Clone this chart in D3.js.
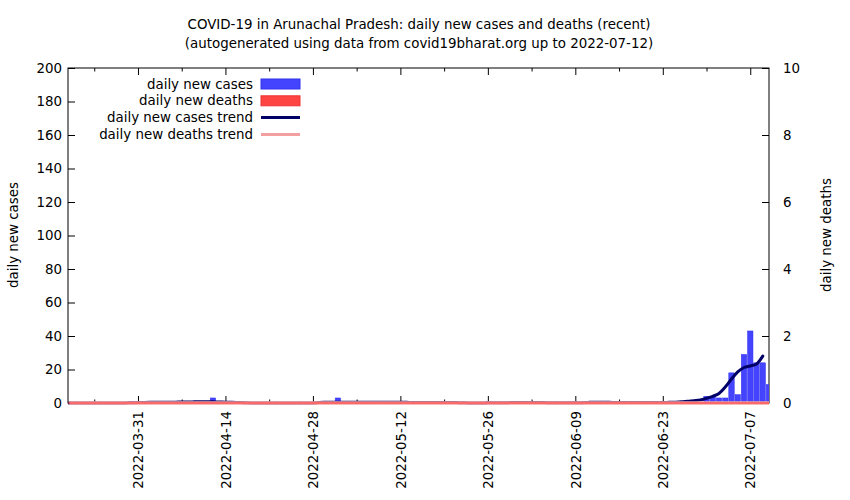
<!DOCTYPE html>
<html><head><meta charset="utf-8">
<script src="https://cdn.jsdelivr.net/npm/d3@7"></script>
<style>
body{margin:0;background:#fff;}
text{font-family:"DejaVu Sans",sans-serif;font-size:13.4px;fill:#000;}
</style></head>
<body><svg id="c" width="850" height="500"></svg>
<script>
const startDate = "2022-03-20";
// daily new cases, one value per day from startDate to 2022-07-10
const newCases = [
0,0,0,0,0,0,0,0,0,0, 1,0,1,0,0,0,0,0,1,0,
0,0,0,3,1,0,0,0,0,0, 0,0,0,0,0,0,0,0,0,0,
0,0,0,3,0,0,0,0,0,0, 0,0,0,0,1,0,0,0,0,0,
1,0,0,0,0,0,0,1,0,0, 0,0,0,0,1,0,0,0,0,0,
0,1,0,0,0,1,0,0,0,0, 0,0,0,0,1,0,0,0,0,0,
0,0,4,4,3,3,18,5,29,43, 24,24,11];
const newDeaths = new Array(113).fill(0);
const casesTrend = [
0,0,0,0,0,0,0,0,0,0, 0.15,0.25,0.35,0.4,0.4,0.45,0.5,0.5,0.6,0.6,
0.7,0.8,0.8,0.7,0.6,0.5,0.4,0.3,0.15,0, 0,0,0,0,0,0,0,0,0,0,
0.3,0.4,0.45,0.5,0.45,0.4,0.4,0.4,0.4,0.45, 0.5,0.5,0.5,0.45,0.4,0.3,0.3,0.35,0.3,0.3,
0.3,0.3,0.25,0.15,0,0,0,0.1,0.2,0.2, 0.2,0.25,0.3,0.3,0.3,0.3,0.25,0.15,0.15,0.15,
0.2,0.2,0.2,0.35,0.45,0.5,0.45,0.35,0.35,0.35, 0.3,0.3,0.3,0.3,0.3,0.3,0.4,0.5,0.7,1.1,
1.4,1.8,2.8,4,5.7,9.5,14.3,18.6,21.2,22.1, 23.3,28,null];
const deathsTrend = new Array(113).fill(0);
const leftTicks = [0,20,40,60,80,100,120,140,160,180,200];
const rightTicks = [0,2,4,6,8,10];
const labelDates = ["2022-03-31","2022-04-14","2022-04-28","2022-05-12","2022-05-26","2022-06-09","2022-06-23","2022-07-07"];
const title1 = "COVID-19 in Arunachal Pradesh: daily new cases and deaths (recent)";
const title2 = "(autogenerated using data from covid19bharat.org up to 2022-07-12)";

const parse = d3.utcParse("%Y-%m-%d");
const day0 = parse(startDate);
const dates = newCases.map((_, i) => d3.utcDay.offset(day0, i));

const L = 68, R = 769, T = 68, B = 403;
const svg = d3.select("#c");
const x = d3.scaleUtc()
  .domain([new Date(Date.UTC(2022,2,19,19,12)), new Date(Date.UTC(2022,6,10,0,0))])
  .range([L, R]);
const y = d3.scaleLinear().domain([0,200]).range([B,T]);
const y2 = d3.scaleLinear().domain([0,10]).range([B,T]);
const dayW = x(d3.utcDay.offset(day0,1)) - x(day0);

svg.append("defs").append("clipPath").attr("id","clip")
  .append("rect").attr("x",L).attr("y",T-2).attr("width",R-L).attr("height",B-T+6);

// titles
svg.append("text").attr("x",419).attr("y",29).attr("text-anchor","middle").text(title1);
svg.append("text").attr("x",419).attr("y",48).attr("text-anchor","middle").text(title2);

// border first (plot content is drawn over it)
svg.append("rect").attr("x",L).attr("y",T).attr("width",R-L).attr("height",B-T)
  .attr("fill","none").attr("stroke","#000").attr("stroke-width",1);

const g = svg.append("g").attr("clip-path","url(#clip)");
// case bars
g.selectAll("rect.c").data(newCases.map((v,i)=>({d:dates[i],v})).filter(o=>o.v>0))
  .enter().append("rect")
  .attr("x",o=>x(o.d)-dayW/2+0.4).attr("width",dayW-0.8)
  .attr("y",o=>y(o.v)).attr("height",o=>B-y(o.v))
  .attr("fill","#4444ff").attr("stroke","#3333ee").attr("stroke-width",0.5);
// cases trend
const lineC = d3.line().defined(d=>d.v!==null).x(d=>x(d.d)).y(d=>y(d.v)).curve(d3.curveMonotoneX);
g.append("path").datum(casesTrend.map((v,i)=>({d:dates[i],v})))
  .attr("d",lineC).attr("fill","none").attr("stroke","#000066").attr("stroke-width",3)
  .attr("stroke-linecap","round").attr("stroke-linejoin","round");
// deaths trend
const lineD = d3.line().x(d=>x(d.d)).y(d=>y2(d.v));
g.append("path").datum(deathsTrend.map((v,i)=>({d:dates[i],v})))
  .attr("d",lineD).attr("fill","none").attr("stroke","#f6a2a2").attr("stroke-width",3.6);
// deaths bars (zero height -> baseline)
g.selectAll("line.d").data(newDeaths.map((v,i)=>({d:dates[i],v})))
  .enter().append("line")
  .attr("x1",o=>x(o.d)-dayW/2).attr("x2",o=>x(o.d)+dayW/2)
  .attr("y1",o=>y2(o.v)).attr("y2",o=>y2(o.v))
  .attr("stroke","#ff3030").attr("stroke-width",1);

// left axis
const axL = svg.append("g").attr("transform",`translate(${L},0)`)
  .call(d3.axisLeft(y).tickValues(leftTicks).tickSize(-7).tickPadding(6));
// right axis
const axR = svg.append("g").attr("transform",`translate(${R},0)`)
  .call(d3.axisRight(y2).tickValues(rightTicks).tickSize(-7).tickPadding(14));
// bottom axis major/minor
const majorDates = labelDates.map(parse);
const minorDates = majorDates.map(d=>d3.utcDay.offset(d,-7)).filter(d=>x(d)>L);
const axB = svg.append("g").attr("transform",`translate(0,${B})`)
  .call(d3.axisBottom(x).tickValues(majorDates).tickSize(-7).tickFormat(d3.utcFormat("%Y-%m-%d")));
axB.selectAll("text").attr("transform","rotate(-90)").attr("text-anchor","end")
  .attr("x",-8).attr("y",0).attr("dy","0.35em");
const axBm = svg.append("g").attr("transform",`translate(0,${B})`)
  .call(d3.axisBottom(x).tickValues(minorDates).tickSize(-3.5).tickFormat(""));
const axT = svg.append("g").attr("transform",`translate(0,${T})`)
  .call(d3.axisTop(x).tickValues(majorDates).tickSize(-7).tickFormat(""));
const axTm = svg.append("g").attr("transform",`translate(0,${T})`)
  .call(d3.axisTop(x).tickValues(minorDates).tickSize(-3.5).tickFormat(""));
[axL,axR,axB,axBm,axT,axTm].forEach(a=>{
  a.select(".domain").remove();
  a.selectAll("text").style("font-family","DejaVu Sans").style("font-size","13.4px");
  a.selectAll("line").attr("stroke","#000");
});
// keep the zero-line marks above the bottom ticks
g.raise();

// axis labels
svg.append("text").attr("transform","translate(18,235) rotate(-90)").attr("text-anchor","middle").text("daily new cases");
svg.append("text").attr("transform","translate(831,235) rotate(-90)").attr("text-anchor","middle").text("daily new deaths");

// legend
const legend = [
  {t:"daily new cases", type:"box", c:"#4444ff", s:"#3333ee"},
  {t:"daily new deaths", type:"box", c:"#ff4444", s:"#ee3333"},
  {t:"daily new cases trend", type:"line", c:"#000066"},
  {t:"daily new deaths trend", type:"line", c:"#f4a0a0"}
];
legend.forEach((e,i)=>{
  const cy = 84 + i*16.8;
  svg.append("text").attr("x",253).attr("y",cy).attr("dy","0.35em").attr("text-anchor","end").text(e.t);
  if(e.type==="box"){
    svg.append("rect").attr("x",261).attr("y",cy-5).attr("width",39).attr("height",10)
      .attr("fill",e.c).attr("stroke",e.s).attr("stroke-width",1);
  } else {
    svg.append("line").attr("x1",261).attr("x2",300).attr("y1",cy).attr("y2",cy)
      .attr("stroke",e.c).attr("stroke-width",3);
  }
});
</script></body></html>
